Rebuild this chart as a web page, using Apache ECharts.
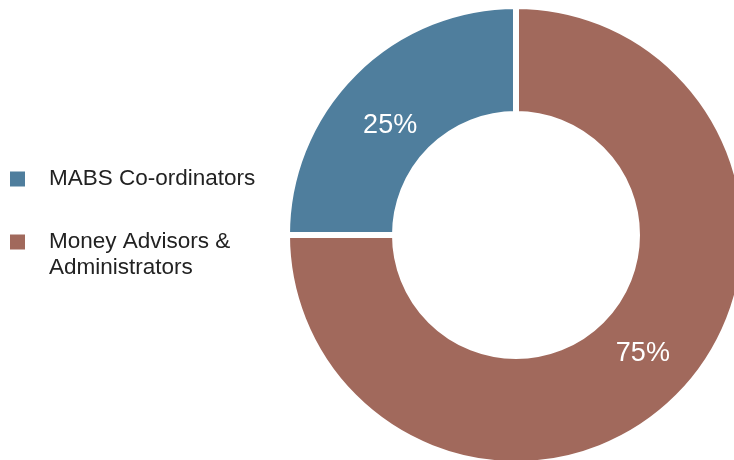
<!DOCTYPE html>
<html>
<head>
<meta charset="utf-8">
<style>
  html, body { margin: 0; padding: 0; background: #ffffff; }
  #chart { width: 734px; height: 460px; }
</style>
<script src="https://cdn.jsdelivr.net/npm/echarts@6/dist/echarts.min.js"></script>
</head>
<body>
<div id="chart"></div>
<script>
// Staff composition by role
const categories = ['MABS Co-ordinators', 'Money Advisors &\nAdministrators'];
const shares = [25, 75];
const colors = ['#4f7e9d', '#a1695c'];
// small nudges for the in-slice percentage labels
const labelOffsets = [[0, 16], [1, -7]];

const FONT = '"Liberation Sans", Arial, Helvetica, sans-serif';

const chart = echarts.init(document.getElementById('chart'), null, { renderer: 'canvas' });

const pieData = categories.map((name, i) => ({
  name: name,
  value: shares[i],
  itemStyle: { color: colors[i] },
  label: { offset: labelOffsets[i] }
}));

chart.setOption({
  backgroundColor: '#ffffff',
  animation: false,
  legend: {
    orient: 'vertical',
    left: 10,
    top: 166,
    padding: 0,
    itemWidth: 15,
    itemHeight: 15,
    itemGap: 11,
    icon: 'rect',
    itemStyle: { borderWidth: 0 },
    data: categories,
    // multi-line names get a leading blank line so the swatch sits beside the first line
    formatter: name => (name.indexOf('\n') >= 0 ? '\n' + name : name),
    textStyle: {
      fontFamily: FONT,
      fontSize: 22.5,
      lineHeight: 26,
      color: '#222222',
      padding: [0, 0, 0, 19]
    }
  },
  series: [{
    type: 'pie',
    center: [516, 235],
    radius: [121, 229],
    clockwise: false,
    startAngle: 90,
    avoidLabelOverlap: false,
    itemStyle: { borderColor: '#ffffff', borderWidth: 6 },
    label: {
      show: true,
      position: 'inside',
      formatter: '{d}%',
      color: '#ffffff',
      fontFamily: FONT,
      fontSize: 27
    },
    labelLine: { show: false },
    emphasis: { disabled: true },
    data: pieData
  }]
});
</script>
</body>
</html>
